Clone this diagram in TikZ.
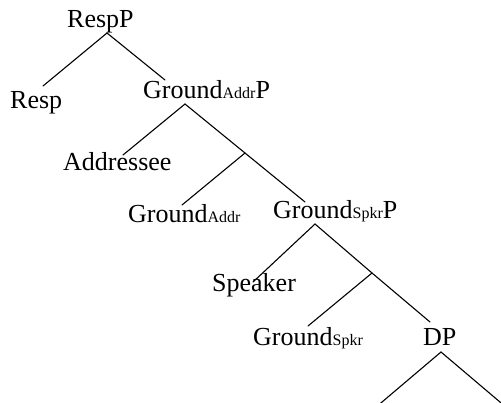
\documentclass[tikz,border=0pt]{standalone}
\usepackage{fontspec}
\setmainfont{Liberation Serif}
\newcommand\subsz{\fontsize{16}{16}\selectfont}
\tikzset{
  lbl/.style={anchor=base west, inner sep=0pt, font=\fontsize{26}{30}\selectfont},
  branch/.style={line width=1.1pt, line cap=round}
}
\begin{document}
\begin{tikzpicture}[x=1pt, y=-1pt]
\useasboundingbox (0,0) rectangle (501,402);
\clip (0,0) rectangle (501,402);
% labels
\node[lbl] (respP) at (67,27) {RespP};
\node[lbl] (resp) at (10,108) {Resp};
\node[lbl] (gaP) at (143,98) {Ground{\subsz Addr}P};
\node[lbl] (addr) at (63,170) {Addressee};
\node[lbl] (ga) at (128,222) {Ground{\subsz Addr}};
\node[lbl] (gsP) at (273,218) {Ground{\subsz Spkr}P};
\node[lbl] (spk) at (212,291) {Speaker};
\node[lbl] (gs) at (253,345) {Ground{\subsz Spkr}};
\node[lbl] (dp) at (423,345) {DP};
% attachment points
\coordinate (respP-b) at (107,33);
\coordinate (resp-t) at (43,86);
\coordinate (gaP-t) at (165,80);
\coordinate (gaP-b) at (185,104);
\coordinate (addr-t) at (123,155);
\coordinate (gabar) at (245,153);
\coordinate (ga-t) at (182,205);
\coordinate (gsP-t) at (305,202);
\coordinate (gsP-b) at (315,224);
\coordinate (spk-t) at (253,282);
\coordinate (gsbar) at (372,273);
\coordinate (gs-t) at (308,326);
\coordinate (dp-t) at (430,322);
\coordinate (dp-b) at (441,352);
\coordinate (dpl) at (372.6,410);
\coordinate (dpr) at (509.4,410);
% branches
\draw[branch] (resp-t) -- (respP-b) -- (gaP-t);
\draw[branch] (addr-t) -- (gaP-b) -- (gabar) -- (gsP-t);
\draw[branch] (gabar) -- (ga-t);
\draw[branch] (spk-t) -- (gsP-b) -- (gsbar) -- (dp-t);
\draw[branch] (gsbar) -- (gs-t);
\draw[branch] (dpl) -- (dp-b) -- (dpr);
\end{tikzpicture}
\end{document}
